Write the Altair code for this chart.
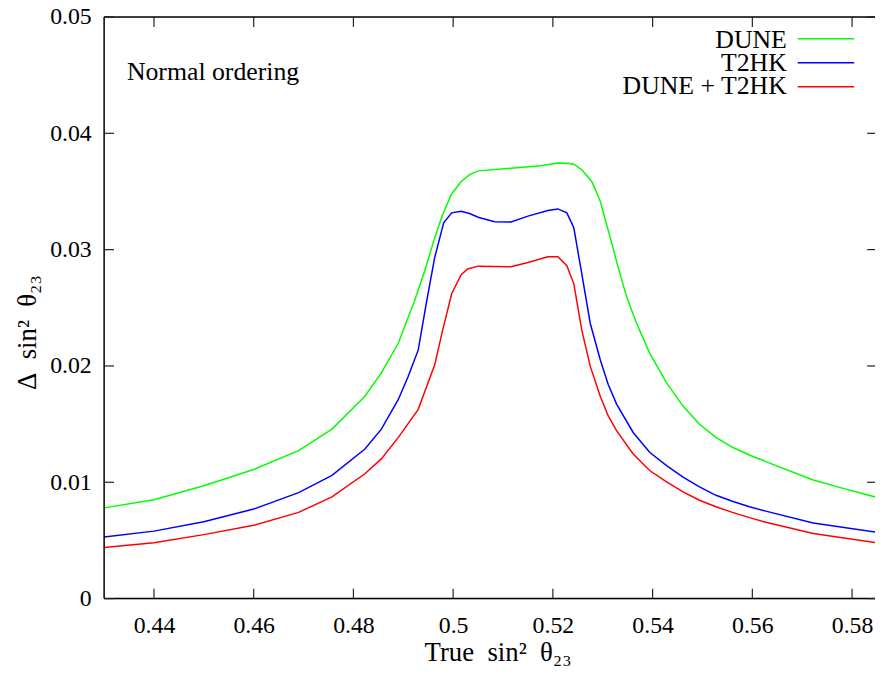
import altair as alt
import pandas as pd

# ---- data ----
series_names = ["DUNE", "T2HK", "DUNE + T2HK"]
series_colors = ["#00ff00", "#0000ff", "#ff0000"]

dune_x = [0.430, 0.440, 0.450, 0.460, 0.4690, 0.4757, 0.4823, 0.4856, 0.4890, 0.4923, 0.4943,
          0.4963, 0.4979, 0.4996, 0.5016, 0.5033, 0.5050, 0.5116, 0.5176, 0.5210, 0.5228,
          0.5242, 0.5258, 0.5278, 0.5295, 0.5315, 0.5331, 0.5348, 0.5368, 0.5394, 0.5428,
          0.5461, 0.5494, 0.5527, 0.5560, 0.5594, 0.5627, 0.5722, 0.5780, 0.5850]
dune_y = [0.0078, 0.0085, 0.0097, 0.0111, 0.01272, 0.01457, 0.01740, 0.01940, 0.02195, 0.02564,
          0.02819, 0.03103, 0.03302, 0.03472, 0.03586, 0.03645, 0.03677, 0.03700, 0.03722,
          0.03745, 0.03742, 0.03734, 0.03686, 0.03586, 0.03416, 0.03103, 0.02847, 0.02592,
          0.02365, 0.02110, 0.01854, 0.01655, 0.01499, 0.01386, 0.01301, 0.01235, 0.01178,
          0.01020, 0.00950, 0.00870]

t2hk_x = [0.430, 0.440, 0.450, 0.460, 0.4690, 0.4757, 0.4823, 0.4856, 0.4890, 0.4910, 0.4930,
          0.4946, 0.4963, 0.4981, 0.4997, 0.5016, 0.5033, 0.5050, 0.5083, 0.5116, 0.5150,
          0.5190, 0.5210, 0.5228, 0.5242, 0.5258, 0.5275, 0.5295, 0.5311, 0.5328, 0.5361,
          0.5394, 0.5428, 0.5461, 0.5494, 0.5527, 0.5560, 0.5594, 0.5627, 0.5722, 0.5850]
t2hk_y = [0.0053, 0.0058, 0.0066, 0.0077, 0.00911, 0.01059, 0.01286, 0.01457, 0.01712, 0.01911,
          0.02138, 0.02536, 0.02933, 0.03231, 0.03316, 0.03330, 0.03310, 0.03279, 0.03240,
          0.03237, 0.03288, 0.03336, 0.03350, 0.03316, 0.03188, 0.02791, 0.02365, 0.02053,
          0.01840, 0.01670, 0.01428, 0.01258, 0.01144, 0.01045, 0.00960, 0.00888, 0.00837,
          0.00790, 0.00752, 0.00650, 0.00570]

both_x = [0.430, 0.440, 0.450, 0.460, 0.4690, 0.4757, 0.4823, 0.4856, 0.4890, 0.4930, 0.4963,
          0.4979, 0.4997, 0.5016, 0.5029, 0.5050, 0.5116, 0.5150, 0.5190, 0.5210, 0.5228,
          0.5242, 0.5258, 0.5275, 0.5295, 0.5311, 0.5328, 0.5361, 0.5394, 0.5428, 0.5461,
          0.5494, 0.5527, 0.5560, 0.5594, 0.5627, 0.5722, 0.5850]
both_y = [0.0044, 0.0048, 0.0055, 0.0063, 0.00741, 0.00875, 0.01073, 0.01201, 0.01386, 0.01627,
          0.02010, 0.02308, 0.02621, 0.02785, 0.02834, 0.02858, 0.02853, 0.02890, 0.02939,
          0.02939, 0.02862, 0.02706, 0.02308, 0.01996, 0.01740, 0.01570, 0.01442, 0.01244,
          0.01101, 0.01003, 0.00917, 0.00846, 0.00790, 0.00741, 0.00696, 0.00656, 0.00560,
          0.00480]

x_ticks = [0.44, 0.46, 0.48, 0.50, 0.52, 0.54, 0.56, 0.58]
y_ticks = [0.0, 0.01, 0.02, 0.03, 0.04, 0.05]
x_domain = [0.43, 0.5846]   # the right edge of the frame falls just outside the picture
y_domain = [0.0, 0.05]

x_title = "True\u2002sin²\u2002θ₂₃"
y_title = "Δ\u2002sin²\u2002θ₂₃"

# ---- tables ----
rows = []
for name, xs, ys in zip(series_names, [dune_x, t2hk_x, both_x], [dune_y, t2hk_y, both_y]):
    for a, b in zip(xs, ys):
        rows.append({"series": name, "x": a, "y": b})
df = pd.DataFrame(rows)
xt = pd.DataFrame({"x": x_ticks})
yt = pd.DataFrame({"y": y_ticks})

W, H = 778, 587
FONT = "Liberation Serif, Times New Roman, DejaVu Serif, serif"
FS = 24
FS_TEXT = 26
FS_TITLE = 27
TICK = 10

xscale = alt.Scale(domain=x_domain, nice=False, zero=False)
yscale = alt.Scale(domain=y_domain, nice=False, zero=False)

x_axis = alt.Axis(values=x_ticks, format="~g", title=x_title, grid=False,
                  domain=False, ticks=False, labelFont=FONT, labelFontSize=FS,
                  labelColor="black", labelPadding=15, titleFont=FONT, titleFontSize=FS_TITLE,
                  titleFontWeight="normal", titleColor="black", titleX=W / 2 + 8, titleY=54,
                  titleAlign="center", titleBaseline="middle", labelFlush=False)
y_axis = alt.Axis(values=y_ticks, format="~g", title=y_title, grid=False,
                  domain=False, ticks=False, labelFont=FONT, labelFontSize=FS,
                  labelColor="black", labelPadding=13, titleFont=FONT, titleFontSize=FS_TITLE,
                  titleFontWeight="normal", titleColor="black", titleX=-69, titleY=318,
                  titleAngle=270, titleAlign="center", titleBaseline="alphabetic",
                  labelFlush=False)

lines = alt.Chart(df).mark_line(strokeWidth=1.5, clip=True).encode(
    x=alt.X("x:Q", scale=xscale, axis=x_axis),
    y=alt.Y("y:Q", scale=yscale, axis=y_axis),
    color=alt.Color("series:N", scale=alt.Scale(domain=series_names, range=series_colors),
                    legend=None),
)

# frame (left, top, bottom; the right edge lies beyond the picture)
frame_style = dict(color="black", strokeWidth=1.5)
frame_df = pd.DataFrame({"k": [0]})
frame_left = alt.Chart(frame_df).mark_rule(**frame_style).encode(
    x=alt.value(0), y=alt.value(0), y2=alt.value(H))
frame_top = alt.Chart(frame_df).mark_rule(**frame_style).encode(
    x=alt.value(0), x2=alt.value(W + 4), y=alt.value(0))
frame_bottom = alt.Chart(frame_df).mark_rule(**frame_style).encode(
    x=alt.value(0), x2=alt.value(W + 4), y=alt.value(H))

# inward ticks on all four sides
tick_style = dict(color="#222222", strokeWidth=1.2)
bottom_ticks = alt.Chart(xt).mark_rule(**tick_style).encode(
    x=alt.X("x:Q", scale=xscale), y=alt.value(H), y2=alt.value(H - TICK))
top_ticks = alt.Chart(xt).mark_rule(**tick_style).encode(
    x=alt.X("x:Q", scale=xscale), y=alt.value(0), y2=alt.value(TICK))
left_ticks = alt.Chart(yt).mark_rule(**tick_style).encode(
    y=alt.Y("y:Q", scale=yscale), x=alt.value(0), x2=alt.value(TICK))
right_ticks = alt.Chart(yt).mark_rule(**tick_style).encode(
    y=alt.Y("y:Q", scale=yscale), x=alt.value(W + 2), x2=alt.value(W + 2 - TICK))

# legend (top right, label then line sample)
legend_layers = []
for i, (name, col) in enumerate(zip(series_names, series_colors)):
    lab = alt.Chart(pd.DataFrame({"label": [name]})).mark_text(
        align="right", baseline="alphabetic", font=FONT, fontSize=FS_TEXT, color="black"
    ).encode(x=alt.value(689), y=alt.value(31 + 23.6 * i), text="label:N")
    smp = alt.Chart(pd.DataFrame({"label": [name]})).mark_rule(
        color=col, strokeWidth=1.5
    ).encode(x=alt.value(700), x2=alt.value(757), y=alt.value(22 + 24.2 * i))
    legend_layers += [lab, smp]

note = alt.Chart(pd.DataFrame({"t": ["Normal ordering"]})).mark_text(
    align="left", baseline="alphabetic", font=FONT, fontSize=FS_TEXT, color="black"
).encode(x=alt.value(23), y=alt.value(64), text="t:N")

chart = alt.layer(
    lines, frame_left, frame_top, frame_bottom,
    bottom_ticks, top_ticks, left_ticks, right_ticks, note, *legend_layers
).properties(
    width=W, height=H,
    padding={"left": 97, "top": 6, "right": 0, "bottom": 70},
    autosize=alt.AutoSizeParams(type="none"),
).configure_view(
    strokeWidth=0
).configure(background="white")

chart.save("out.html", embed_options={"renderer": "svg", "actions": False})
